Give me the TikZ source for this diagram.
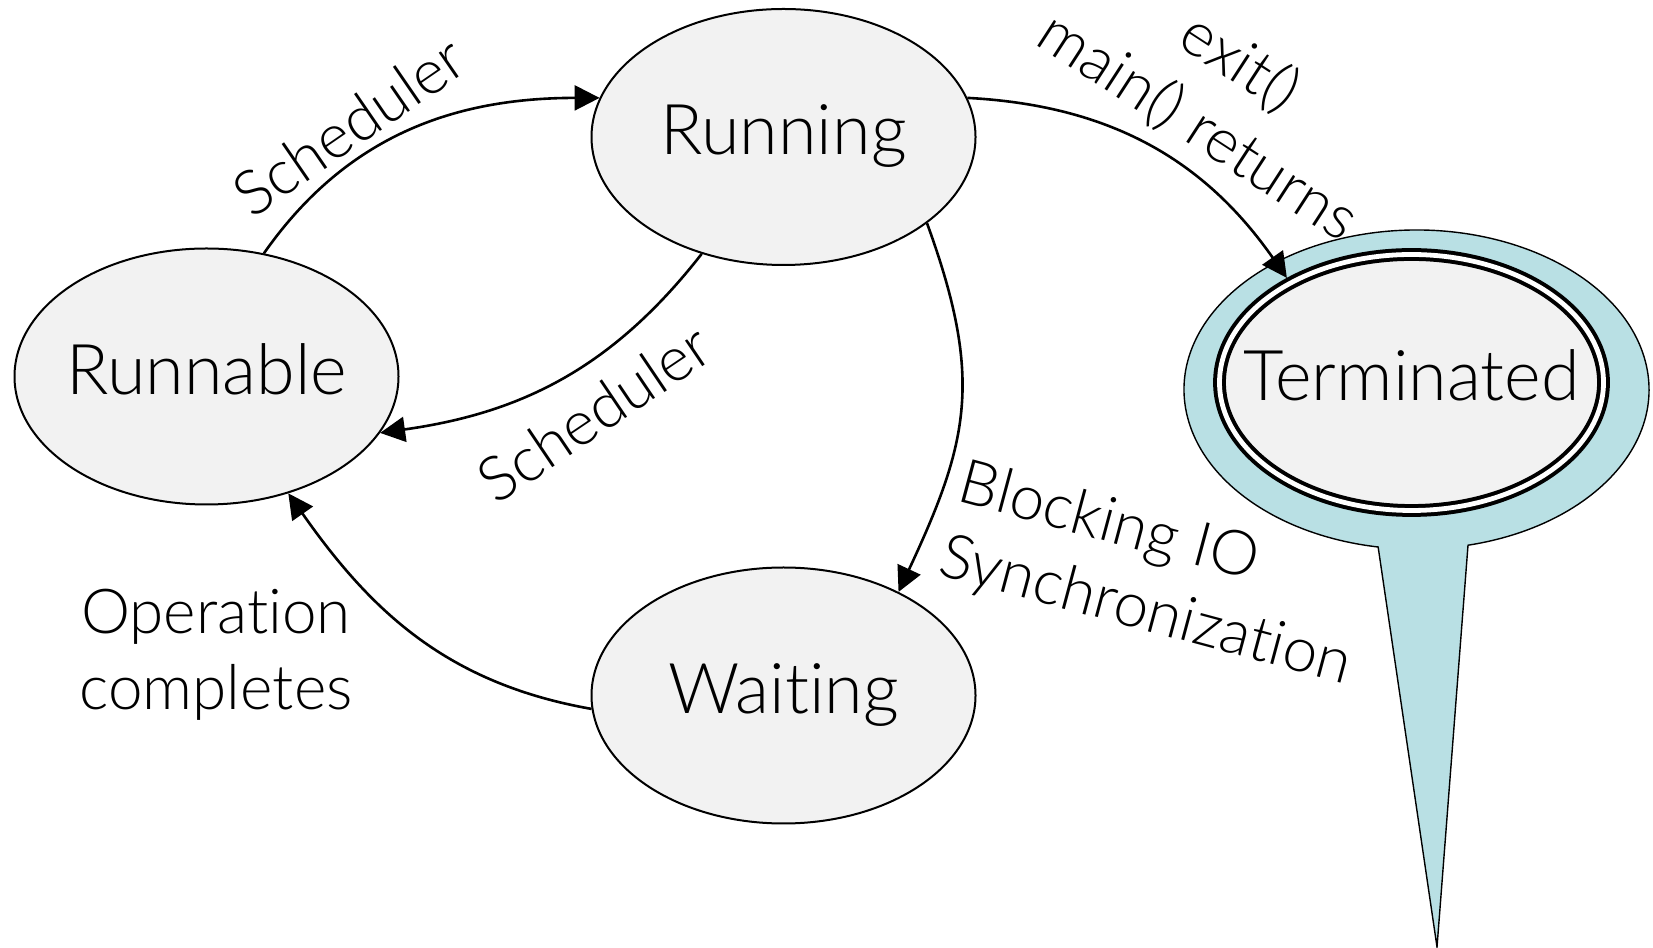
\documentclass[tikz,border=0pt]{standalone}
\usepackage{fontspec}
\setmainfont{Lato Light}[Ligatures=NoCommon]
\usetikzlibrary{arrows.meta,shapes.geometric}
\definecolor{stategray}{HTML}{F2F2F2}
\definecolor{calloutfill}{HTML}{B9E0E4}
\begin{document}
\begin{tikzpicture}[x=0.5pt,y=0.5pt,
  state/.style={ellipse, draw=black, line width=1pt, fill=stategray,
    minimum width=192pt, minimum height=128pt, inner sep=0pt,
    text height=25pt, text depth=7pt,
    font=\fontsize{35}{42}\selectfont},
  lbl/.style={font=\fontsize{31}{38}\selectfont, align=center, inner sep=0pt},
  arr/.style={line width=1.3pt, -{Triangle[length=12.5pt,width=12.5pt]}},
  callout/.style={fill=calloutfill, draw=black, line width=0.7pt}
]
\useasboundingbox (0,0) rectangle (1653,947);

% callout balloon behind Terminated
\path[callout] (1416.5,557.4) ++(-77.2:232.5 and 159.6)
  arc[start angle=-77.2, end angle=260.5, x radius=232.5, y radius=159.6]
  -- (1437,0) -- cycle;

% states
\node[state] (running) at (783.5,810) {\makebox[0pt]{Running}};
\node[state] (runnable) at (206.5,570.5) {\makebox[0pt]{Runnable}};
\node[state] (waiting) at (783.5,251.5) {\makebox[0pt]{Waiting}};
\node[state, double, double distance=2.4pt, line width=2pt, outer sep=3.2pt]
  (terminated) at (1411.5,564.5) {\makebox[0pt]{Terminated}};

% transitions
\draw[arr] (runnable.65) to[out=55,in=180] (running.168);
\draw[arr] (running.235) to[out=232,in=8] (runnable.-18);
\draw[arr] (running.-31) to[out=-70,in=65,looseness=1.15] (waiting.42);
\draw[arr] (waiting.184) to[out=170,in=-55] (runnable.-55);
\draw[arr] (running.12) to[out=-3,in=125] (terminated.140);

% labels
\node[lbl, rotate=34.5] (s1) at (349,821) {Scheduler};
\node[lbl, rotate=34] (s2) at (594,534) {Scheduler};
\node[lbl, rotate=-33] (ex) at (1219,852) {exit()\\main() returns};
\node[lbl, align=left, rotate=-15] (bl) at (1155,371) {Blocking IO\\Synchronization};
\node[lbl] (op) at (216,292) {Operation\\completes};
\end{tikzpicture}
\end{document}
